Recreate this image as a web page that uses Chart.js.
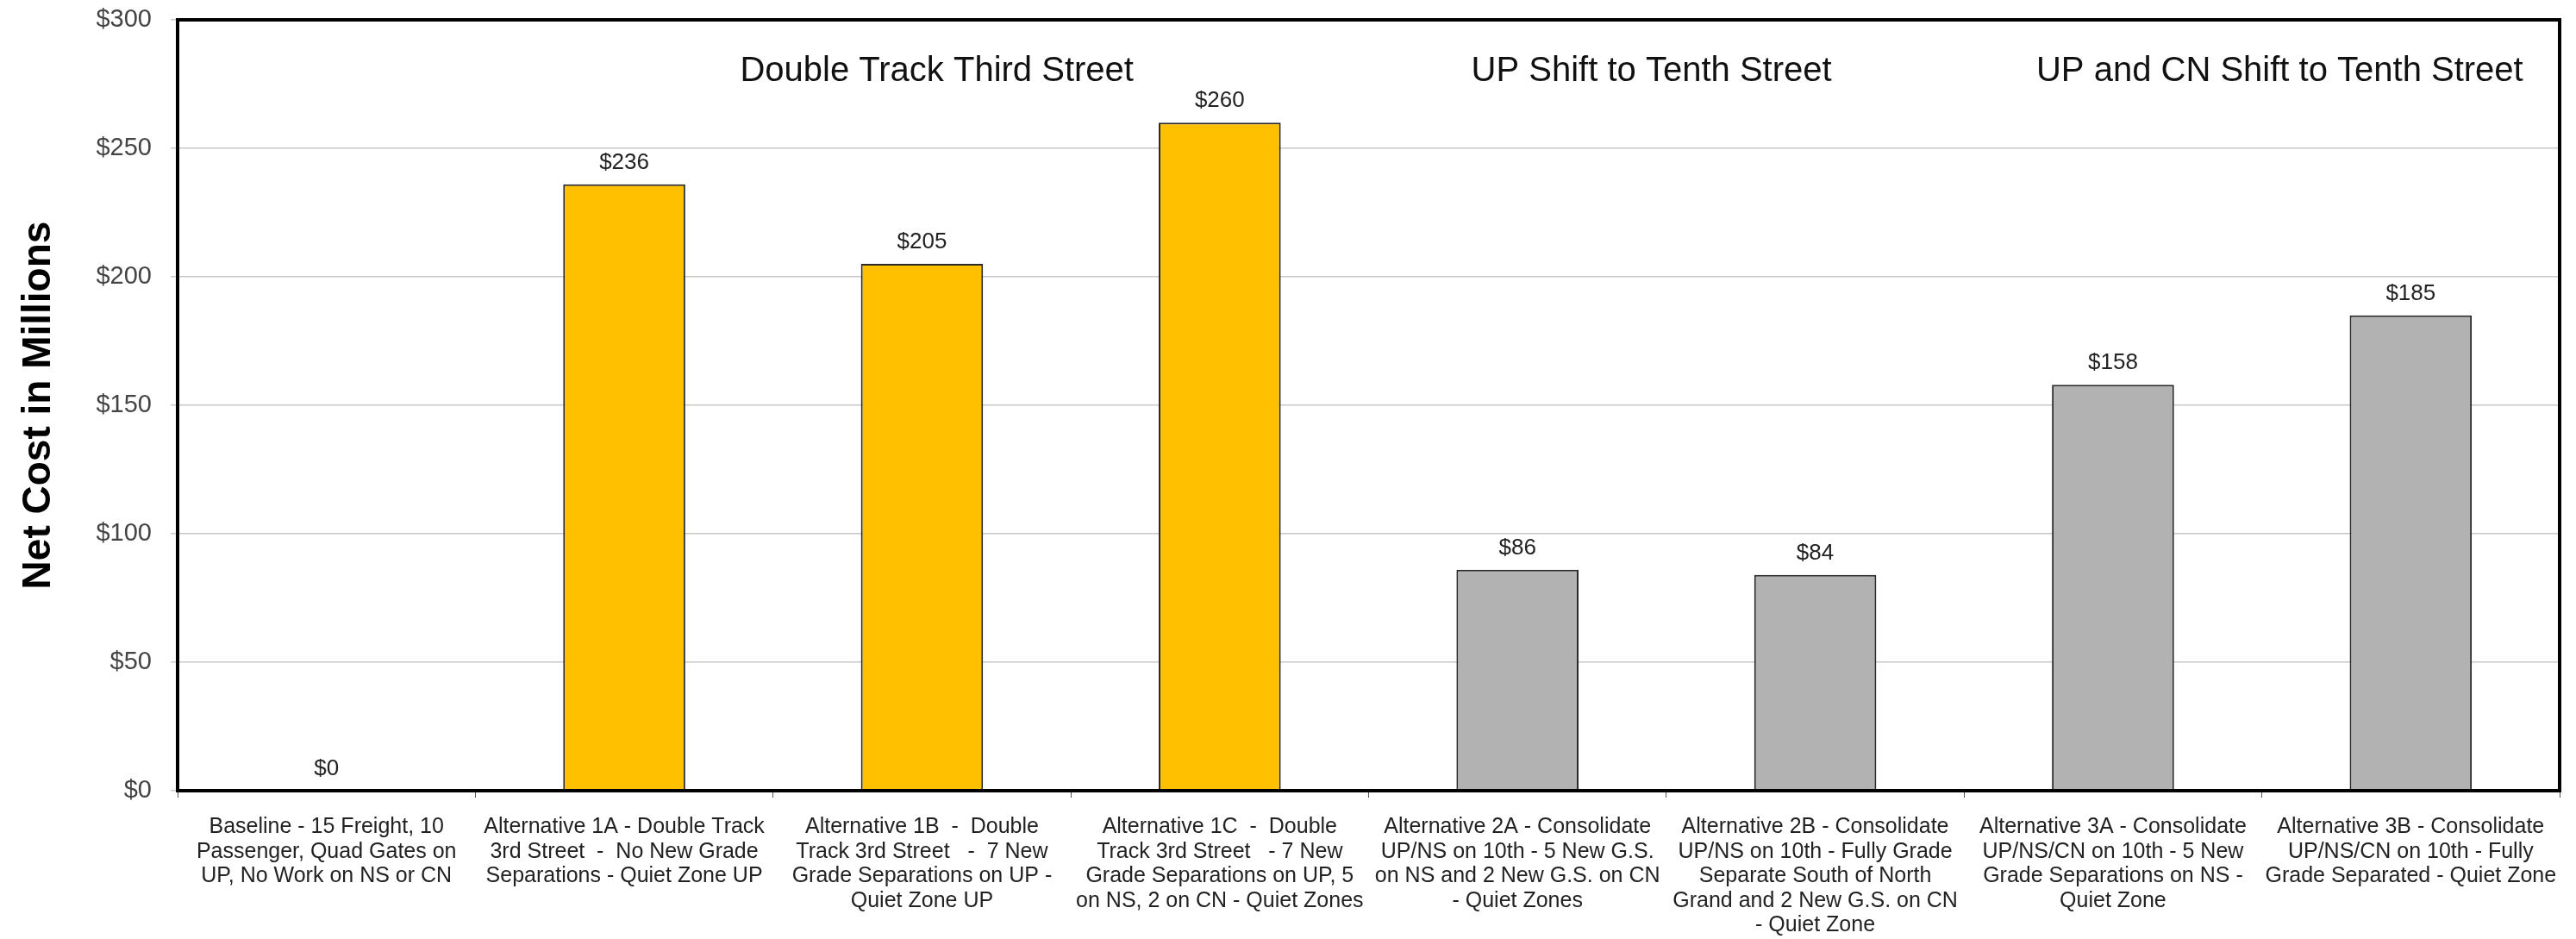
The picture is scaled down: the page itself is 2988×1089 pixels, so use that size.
<!DOCTYPE html>
<html>
<head>
<meta charset="utf-8">
<script src="https://cdn.jsdelivr.net/npm/chart.js@4"></script>
<style>
  html, body { margin: 0; padding: 0; background: #fff; }
  #wrap { width: 2988px; height: 1089px; }
</style>
</head>
<body>
<div id="wrap"><canvas id="costChart"></canvas></div>
<script>
const categories = [
  ["Baseline - 15 Freight, 10", "Passenger, Quad Gates on", "UP, No Work on NS or CN"],
  ["Alternative 1A - Double Track", "3rd Street  -  No New Grade", "Separations - Quiet Zone UP"],
  ["Alternative 1B  -  Double", "Track 3rd Street   -  7 New", "Grade Separations on UP -", "Quiet Zone UP"],
  ["Alternative 1C  -  Double", "Track 3rd Street   - 7 New", "Grade Separations on UP, 5", "on NS, 2 on CN - Quiet Zones"],
  ["Alternative 2A - Consolidate", "UP/NS on 10th - 5 New G.S.", "on NS and 2 New G.S. on CN", "- Quiet Zones"],
  ["Alternative 2B - Consolidate", "UP/NS on 10th - Fully Grade", "Separate South of North", "Grand and 2 New G.S. on CN", "- Quiet Zone"],
  ["Alternative 3A - Consolidate", "UP/NS/CN on 10th - 5 New", "Grade Separations on NS -", "Quiet Zone"],
  ["Alternative 3B - Consolidate", "UP/NS/CN on 10th - Fully", "Grade Separated - Quiet Zone"]
];
const netCost = [0, 236, 205, 260, 86, 84, 158, 185];
const groupTitles = ["Double Track Third Street", "UP Shift to Tenth Street", "UP and CN Shift to Tenth Street"];
const yTicks = [0, 50, 100, 150, 200, 250, 300];

const barColors = netCost.map((v, i) => (i >= 1 && i <= 3) ? "#FFC000" : "#B2B2B2");

const FONT = "'Liberation Sans', Arial, sans-serif";

// frame, value labels and group titles
const extras = {
  id: "extras",
  afterDatasetsDraw(chart) {
    const { ctx, chartArea, scales } = chart;
    ctx.save();
    // value labels
    ctx.font = "26px " + FONT;
    ctx.fillStyle = "#222";
    ctx.textAlign = "center";
    ctx.textBaseline = "alphabetic";
    chart.getDatasetMeta(0).data.forEach((bar, i) => {
      ctx.fillText("$" + netCost[i], bar.x, bar.y - 18);
    });
    // group titles
    const gx = [2.05, 4.45, 6.56];
    ctx.font = "40px " + FONT;
    ctx.fillStyle = "#111";
    ctx.textBaseline = "middle";
    groupTitles.forEach((t, i) => {
      ctx.fillText(t, scales.x.getPixelForValue(gx[i]), scales.y.getPixelForValue(280));
    });
    // plot frame
    ctx.strokeStyle = "#000";
    ctx.lineWidth = 4;
    ctx.strokeRect(chartArea.left, chartArea.top, chartArea.right - chartArea.left, chartArea.bottom - chartArea.top);
    ctx.restore();
  }
};

new Chart(document.getElementById("costChart").getContext("2d"), {
  type: "bar",
  data: {
    labels: categories,
    datasets: [
      {
        data: netCost,
        backgroundColor: barColors,
        borderColor: "#2a2a2a",
        borderWidth: 2,
        barPercentage: 0.41,
        categoryPercentage: 1.0,
      },
    ],
  },
  options: {
    responsive: true,
    maintainAspectRatio: false,
    animation: false,
    layout: { padding: { top: 23, right: 19, left: 0, bottom: 0 } },
    plugins: {
      legend: { display: false },
      tooltip: { enabled: false },
    },
    scales: {
      x: {
        grid: {
          offset: true,
          drawOnChartArea: false,
          drawTicks: true,
          tickLength: 8,
          color: "#555",
        },
        border: { display: false },
        ticks: {
          color: "#222",
          font: { family: FONT, size: 25, lineHeight: 1.14 },
          maxRotation: 0,
          autoSkip: false,
          padding: 20,
        },
        afterFit(axis) {
          axis.height = 172;
          axis.paddingLeft = 0;
          axis.paddingRight = 0;
        },
      },
      y: {
        min: 0,
        max: 300,
        afterBuildTicks(axis) { axis.ticks = yTicks.map(v => ({ value: v })); },
        grid: { color: "#c8c8c8", lineWidth: 1.5, tickLength: 8 },
        border: { display: false },
        ticks: {
          color: "#444",
          font: { family: FONT, size: 29 },
          padding: 22,
          callback: v => "$" + v,
        },
        title: {
          display: true,
          text: "Net Cost in Millions",
          color: "#000",
          font: { family: FONT, size: 46, weight: "bold" },
          padding: { top: 18, bottom: 0 },
        },
        afterFit(axis) {
          axis.width = 206;
          axis.paddingTop = 0;
          axis.paddingBottom = 0;
        },
      },
    },
  },
  plugins: [extras],
});
</script>
</body>
</html>
